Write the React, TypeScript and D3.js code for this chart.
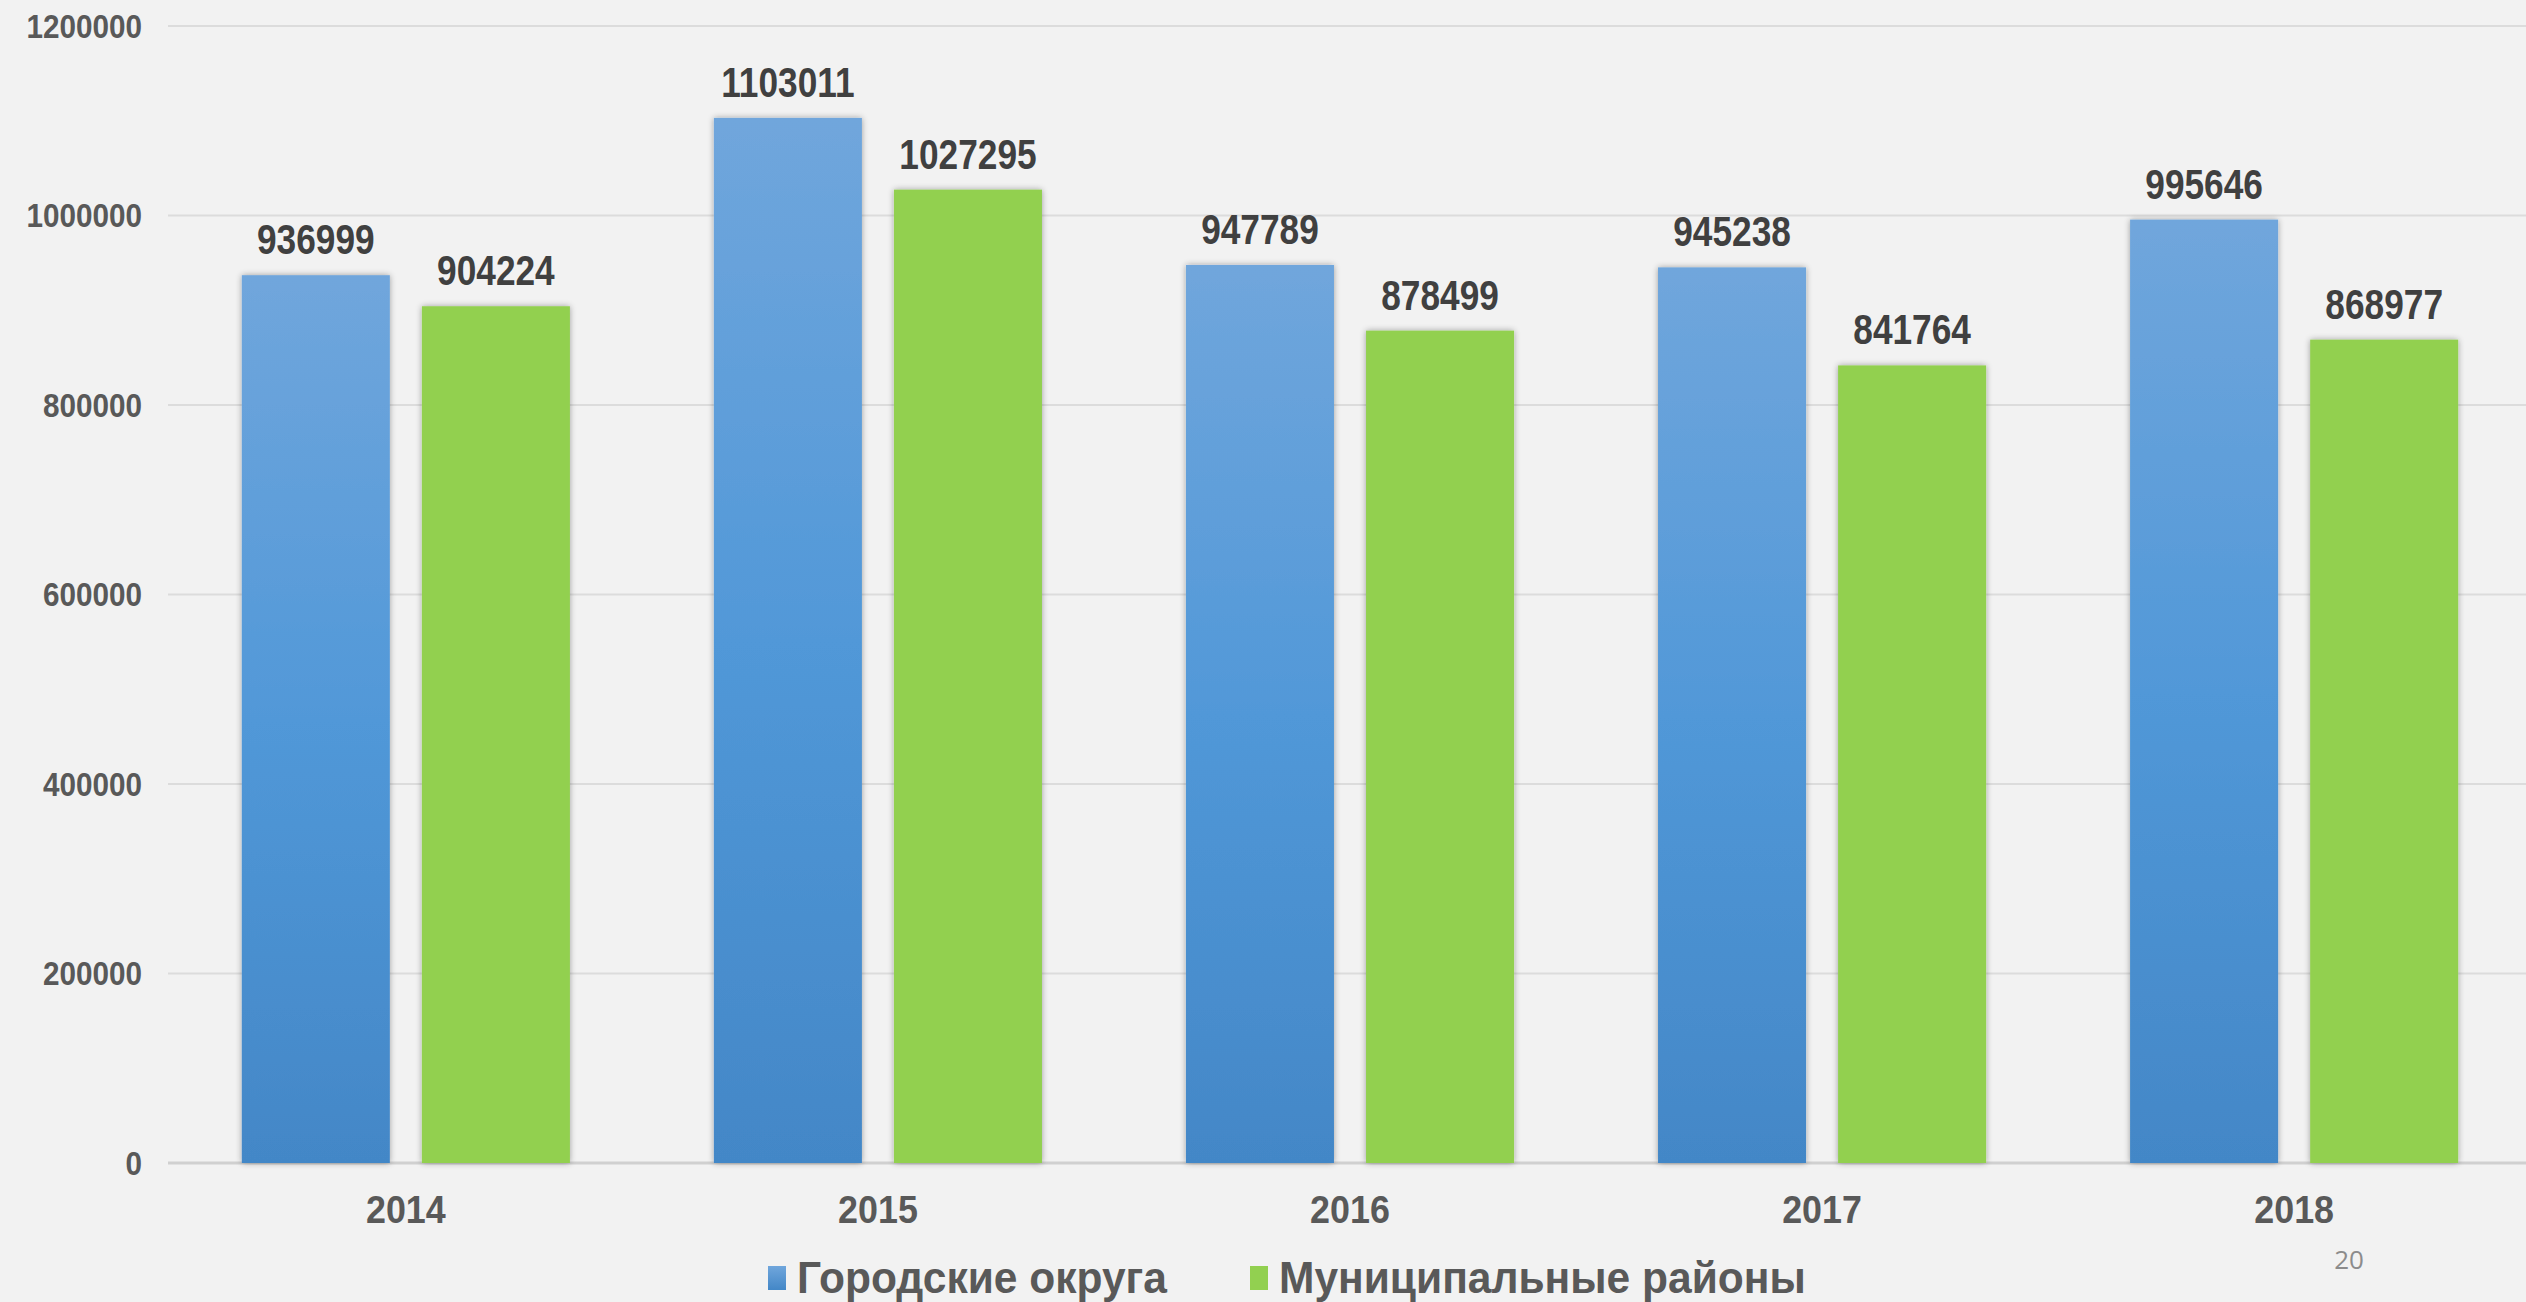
import React from "react";
import * as d3 from "d3";

const years = ["2014", "2015", "2016", "2017", "2018"];
const seriesNames = ["Городские округа", "Муниципальные районы"];
const cityValues = [936999, 1103011, 947789, 945238, 995646];
const districtValues = [904224, 1027295, 878499, 841764, 868977];
const yTicks = [0, 200000, 400000, 600000, 800000, 1000000, 1200000];
const pageNumber = "20";

const W = 2526;
const H = 1302;

export default function App() {
  const margin = { left: 171, right: 0, top: 26, bottom: 139 };
  const y = d3.scaleLinear().domain([0, 1200000]).range([H - margin.bottom, margin.top]);
  const x0 = d3.scaleBand().domain(years).range([margin.left, W - margin.right + 3]).paddingInner(0.305).paddingOuter(0.15);
  const x1 = d3.scaleBand().domain(seriesNames).range([0, x0.bandwidth()]).paddingInner(0.178).paddingOuter(0);
  const series = [cityValues, districtValues];
  const fills = ["url(#blueGrad)", "#92D050"];
  const sans = "'Liberation Sans', Arial, sans-serif";

  return (
    <svg width={W} height={H} style={{ position: "fixed", left: 0, top: 0, background: "#F2F2F2" }}>
      <defs>
        <linearGradient id="blueGrad" x1="0" y1="0" x2="0" y2="1">
          <stop offset="0" stopColor="#70A6DC" />
          <stop offset="0.5" stopColor="#5198D8" />
          <stop offset="1" stopColor="#4387C7" />
        </linearGradient>
        <linearGradient id="blueGradLeg" x1="0" y1="0" x2="0" y2="1">
          <stop offset="0" stopColor="#70A6DC" />
          <stop offset="1" stopColor="#4387C7" />
        </linearGradient>
        <filter id="shadow" x="-20%" y="-20%" width="140%" height="140%">
          <feGaussianBlur in="SourceAlpha" stdDeviation="3" />
          <feOffset dx="0" dy="0" result="b" />
          <feComponentTransfer>
            <feFuncA type="linear" slope="0.35" />
          </feComponentTransfer>
          <feMerge>
            <feMergeNode />
            <feMergeNode in="SourceGraphic" />
          </feMerge>
        </filter>
      </defs>
      <rect x={0} y={0} width={W} height={H} fill="#F2F2F2" />
      {yTicks.map((t) => (
        <g key={t}>
          <line
            x1={168}
            x2={W}
            y1={y(t)}
            y2={y(t)}
            stroke={t === 0 ? "#D0D0D0" : "#DCDCDC"}
            strokeWidth={t === 0 ? 3 : 2}
          />
          <text
            transform={`translate(142,${y(t)}) scale(0.9,1)`}
            dy="0.36em"
            textAnchor="end"
            fontFamily={sans}
            fontWeight="bold"
            fontSize={33}
            fill="#595959"
          >
            {t}
          </text>
        </g>
      ))}
      {years.map((yr, i) => (
        <g key={yr} transform={`translate(${x0(yr)},0)`}>
          {series.map((vals, si) => {
            const bx = x1(seriesNames[si])!;
            const bw = x1.bandwidth();
            const top = y(vals[i]);
            return (
              <g key={si}>
                <rect
                  x={bx}
                  y={top}
                  width={bw}
                  height={y(0) - top}
                  fill={fills[si]}
                  filter="url(#shadow)"
                />
                <text
                  transform={`translate(${bx + bw / 2},${top - 21}) scale(0.82,1)`}
                  textAnchor="middle"
                  fontFamily={sans}
                  fontWeight="bold"
                  fontSize={43}
                  fill="#404040"
                >
                  {vals[i]}
                </text>
              </g>
            );
          })}
          <text
            transform={`translate(${x0.bandwidth() / 2},1223) scale(0.92,1)`}
            textAnchor="middle"
            fontFamily={sans}
            fontWeight="bold"
            fontSize={39}
            fill="#595959"
          >
            {yr}
          </text>
        </g>
      ))}
      <g>
        <rect x={768} y={1266} width={18} height={24} fill="url(#blueGradLeg)" />
        <text transform="translate(797,1293) scale(0.945,1)" fontFamily={sans} fontWeight="bold" fontSize={45} fill="#595959">
          {seriesNames[0]}
        </text>
        <rect x={1250} y={1266} width={18} height={24} fill="#92D050" />
        <text transform="translate(1279,1293) scale(0.945,1)" fontFamily={sans} fontWeight="bold" fontSize={45} fill="#595959">
          {seriesNames[1]}
        </text>
      </g>
      <text x={2349} y={1269} textAnchor="middle" fontFamily="'Open Sans', 'DejaVu Sans', sans-serif" fontSize={26} fill="#8C8C8C">
        {pageNumber}
      </text>
    </svg>
  );
}
